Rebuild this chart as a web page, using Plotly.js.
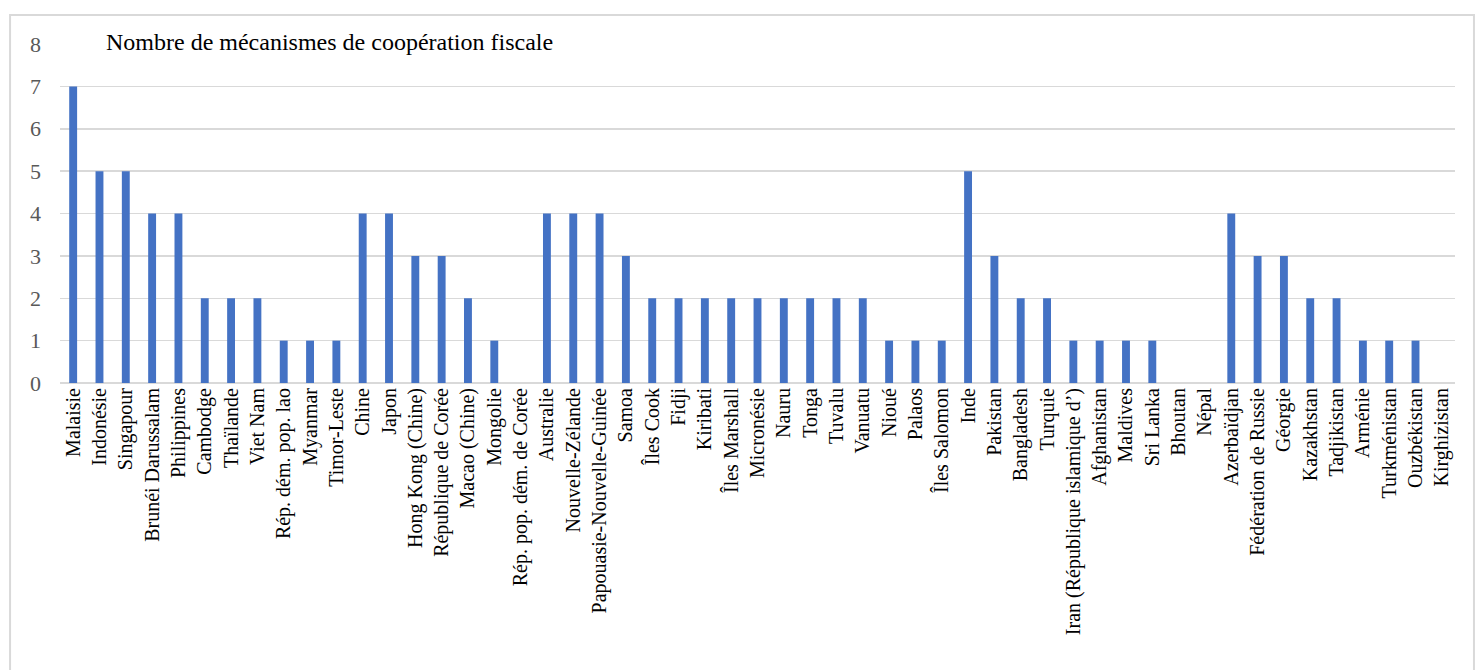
<!DOCTYPE html>
<html><head><meta charset="utf-8">
<script src="https://cdn.plot.ly/plotly-3.0.1.min.js"></script>
<style>html,body{margin:0;padding:0;background:#fff;}#chart{width:1475px;height:670px;}</style>
</head><body><div id="chart"></div>
<script>
const categories = ["Malaisie","Indonésie","Singapour","Brunéi Darussalam","Philippines","Cambodge","Thaïlande","Viet Nam","Rép. dém. pop. lao","Myanmar","Timor-Leste","Chine","Japon","Hong Kong (Chine)","République de Corée","Macao (Chine)","Mongolie","Rép. pop. dém. de Corée","Australie","Nouvelle-Zélande","Papouasie-Nouvelle-Guinée","Samoa","Îles Cook","Fidji","Kiribati","Îles Marshall","Micronésie","Nauru","Tonga","Tuvalu","Vanuatu","Nioué","Palaos","Îles Salomon","Inde","Pakistan","Bangladesh","Turquie","Iran (République islamique d’)","Afghanistan","Maldives","Sri Lanka","Bhoutan","Népal","Azerbaïdjan","Fédération de Russie","Géorgie","Kazakhstan","Tadjikistan","Arménie","Turkménistan","Ouzbékistan","Kirghizistan"];
const values = [7,5,5,4,4,2,2,2,1,1,1,4,4,3,3,2,1,0,4,4,4,3,2,2,2,2,2,2,2,2,2,1,1,1,5,3,2,2,1,1,1,1,0,0,4,3,3,2,2,1,1,1,0];
const yTicks = [0,1,2,3,4,5,6,7,8];
const titleText = "Nombre de mécanismes de coopération fiscale";
const serif = "Liberation Serif, Times New Roman, serif";

const trace = {
  type: "bar", x: categories, y: values,
  marker: {color: "#4472C4"}, hoverinfo: "x+y"
};
const layout = {
  width: 1475, height: 670,
  margin: {l: 60, r: 20, t: 44, b: 287, pad: 0},
  paper_bgcolor: "#fff", plot_bgcolor: "#fff",
  bargap: 0.7,
  showlegend: false,
  font: {family: serif, color: "#000"},
  xaxis: {
    type: "category", tickangle: -90, tickfont: {family: serif, size: 20, color: "#000"},
    showgrid: false, showline: false, zeroline: false, ticks: "", automargin: false
  },
  yaxis: {
    range: [0, 8], tickvals: yTicks, ticktext: yTicks.map(String),
    tickfont: {family: serif, size: 22, color: "#595959"}, ticks: "", ticklen: 0,
    showgrid: true, gridcolor: "#d9d9d9", gridwidth: 1.5,
    zeroline: true, zerolinecolor: "#d9d9d9", zerolinewidth: 1.5,
    showline: false, automargin: false, ticklabelstandoff: 18
  },
  annotations: [{
    text: titleText, xref: "paper", yref: "paper", x: 0.0316, y: 1.006,
    xanchor: "left", yanchor: "middle", showarrow: false,
    font: {size: 24, color: "#000", family: serif}
  }],
  shapes: [{
    type: "rect", xref: "paper", yref: "paper",
    x0: -0.0358, x1: 1.0136, y0: -0.86, y1: 1.0855,
    line: {color: "#d9d9d9", width: 2}, fillcolor: "rgba(0,0,0,0)", layer: "below"
  }]
};
Plotly.newPlot("chart", [trace], layout, {displayModeBar: false, staticPlot: true});
</script></body></html>
